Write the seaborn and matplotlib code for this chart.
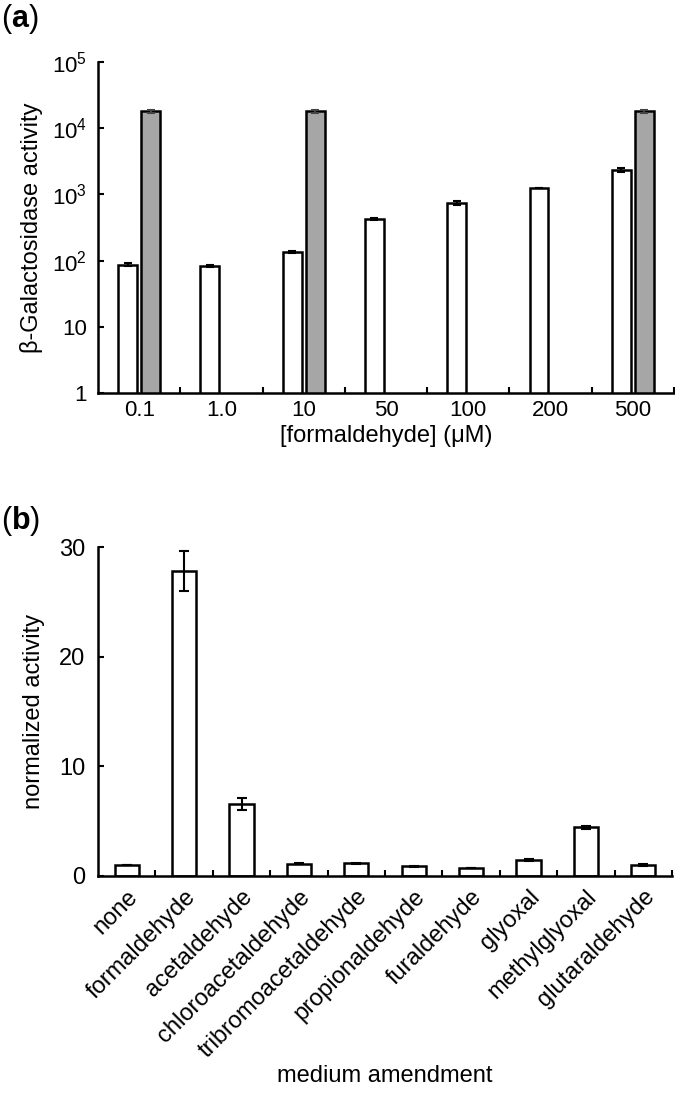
import numpy as np
import pandas as pd
import matplotlib
matplotlib.use("Agg")
import matplotlib.pyplot as plt
from matplotlib.container import BarContainer
import seaborn as sns

# ---------------- data ----------------
conc_labels = ["0.1", "1.0", "10", "50", "100", "200", "500"]
series_names = ["formaldehyde-responsive", "constitutive"]
white_vals = [87, 83, 135, 420, 740, 1250, 2350]
white_err = [4, 2, 6, 15, 45, 20, 150]
grey_vals = [18000, np.nan, 18000, np.nan, np.nan, np.nan, 18000]
grey_err = [900, np.nan, 800, np.nan, np.nan, np.nan, 900]

amend_labels = ["none", "formaldehyde", "acetaldehyde", "chloroacetaldehyde",
                "tribromoacetaldehyde", "propionaldehyde", "furaldehyde",
                "glyoxal", "methylglyoxal", "glutaraldehyde"]
amend_vals = [1.0, 27.8, 6.6, 1.1, 1.15, 0.88, 0.73, 1.45, 4.45, 1.03]
amend_err = [0.04, 1.8, 0.55, 0.04, 0.05, 0.04, 0.04, 0.07, 0.12, 0.08]

ytick_vals_a = [1, 10, 100, 1000, 10000, 100000]
ytick_labels_a = ["1", "10", r"$\mathregular{10^{2}}$", r"$\mathregular{10^{3}}$",
                  r"$\mathregular{10^{4}}$", r"$\mathregular{10^{5}}$"]
ytick_vals_b = [0, 10, 20, 30]

# ---------------- style ----------------
sns.set_theme(style="white")
plt.rcParams["font.family"] = ["Liberation Sans", "DejaVu Sans"]
plt.rcParams["mathtext.fontset"] = "custom"
plt.rcParams["mathtext.rm"] = "Liberation Sans"
plt.rcParams["mathtext.bf"] = "Liberation Sans:bold"
plt.rcParams["text.color"] = "black"
plt.rcParams["axes.labelcolor"] = "black"
plt.rcParams["xtick.color"] = "black"
plt.rcParams["ytick.color"] = "black"

W, H = 675, 1096
fig = plt.figure(figsize=(W / 100, H / 100), dpi=100)
ax1 = fig.add_axes([98 / W, 1 - 393 / H, (674 - 98) / W, (393 - 62) / H])
ax2 = fig.add_axes([98 / W, 1 - 876 / H, (672 - 98) / W, (876 - 547) / H])

# ---------------- panel (a) ----------------
rows = []
for c, v in zip(conc_labels, white_vals):
    rows.append({"conc": c, "series": series_names[0], "activity": v})
for c, v in zip(conc_labels, grey_vals):
    if not np.isnan(v):
        rows.append({"conc": c, "series": series_names[1], "activity": v})
dfa = pd.DataFrame(rows)

sns.barplot(data=dfa, x="conc", y="activity", hue="series",
            order=conc_labels, hue_order=series_names,
            palette={series_names[0]: "white", series_names[1]: "#a6a6a6"},
            width=0.56, gap=0.18, edgecolor="black", linewidth=1.8,
            errorbar=None, legend=False, log_scale=True, ax=ax1)

err_sets = [white_err, grey_err]
err_cols = ["black", "#444444"]
bar_conts = [c for c in ax1.containers if isinstance(c, BarContainer)]
for k, cont in enumerate(bar_conts):
    for p in list(cont.patches):
        cx = p.get_x() + p.get_width() / 2
        idx = int(round(cx))
        h = p.get_height()
        e = err_sets[k][idx]
        if np.isnan(h) or np.isnan(e):
            continue
        ax1.errorbar(cx, h, yerr=e, fmt="none", ecolor=err_cols[k],
                     elinewidth=1.5, capsize=3, capthick=1.5, zorder=5)

ax1.set_yscale("log")
ax1.set_ylim(1, 1e5)
ax1.set_xlim(-0.5, len(conc_labels) - 0.5)
ax1.set_yticks(ytick_vals_a)
ax1.set_yticklabels(ytick_labels_a)
ax1.yaxis.set_minor_locator(matplotlib.ticker.NullLocator())
ax1.set_xticks(np.arange(len(conc_labels)) + 0.5, minor=True)
ax1.tick_params(axis="y", which="major", direction="in", length=4, width=1.5,
                labelsize=16, pad=8, left=True)
ax1.tick_params(axis="x", which="major", length=0, labelsize=16, pad=5)
ax1.tick_params(axis="x", which="minor", direction="in", length=4, width=1.5,
                bottom=True)
ax1.set_xlabel("[formaldehyde] (\u03bcM)", fontsize=17, va="center")
ax1.xaxis.set_label_coords(0.5, (393 - 436) / 331)
ax1.set_ylabel("\u03b2-Galactosidase activity", fontsize=17, labelpad=6)
for s in ["top", "right"]:
    ax1.spines[s].set_visible(False)
for s in ["left", "bottom"]:
    ax1.spines[s].set_linewidth(1.8)
    ax1.spines[s].set_color("black")

# ---------------- panel (b) ----------------
dfb = pd.DataFrame({"amendment": amend_labels, "activity": amend_vals})
sns.barplot(data=dfb, x="amendment", y="activity", order=amend_labels,
            color="white", width=0.42, edgecolor="black", linewidth=1.8,
            errorbar=None, ax=ax2)
bar_conts_b = [c for c in ax2.containers if isinstance(c, BarContainer)]
for p in list(bar_conts_b[0].patches):
    cx = p.get_x() + p.get_width() / 2
    idx = int(round(cx))
    ax2.errorbar(cx, p.get_height(), yerr=amend_err[idx], fmt="none",
                 ecolor="black", elinewidth=1.5, capsize=3.5, capthick=1.5,
                 zorder=5)

ax2.set_ylim(0, 30)
ax2.set_xlim(-0.5, len(amend_labels) - 0.5)
ax2.set_yticks(ytick_vals_b)
ax2.set_yticklabels([str(v) for v in ytick_vals_b])
ax2.set_xticks(np.arange(len(amend_labels)) + 0.5, minor=True)
ax2.tick_params(axis="y", which="major", direction="in", length=4, width=1.5,
                labelsize=17, pad=9, left=True)
ax2.tick_params(axis="x", which="major", length=0, labelsize=17, pad=7)
ax2.tick_params(axis="x", which="minor", direction="in", length=4, width=1.5,
                bottom=True)
plt.setp(ax2.get_xticklabels(), rotation=45, ha="right",
         rotation_mode="anchor")
ax2.set_xlabel("medium amendment", fontsize=17, va="center")
ax2.xaxis.set_label_coords(0.5, (876 - 1076) / 329)
ax2.set_ylabel("normalized activity", fontsize=17, labelpad=10)
for s in ["top", "right"]:
    ax2.spines[s].set_visible(False)
for s in ["left", "bottom"]:
    ax2.spines[s].set_linewidth(1.8)
    ax2.spines[s].set_color("black")

# panel letters
fig.text(1 / W, 1 - 19 / H, r"($\mathbf{a}$)", fontsize=22, va="center", ha="left")
fig.text(1 / W, 1 - 521 / H, r"($\mathbf{b}$)", fontsize=22, va="center", ha="left")

fig.savefig("out.png", dpi=100)
